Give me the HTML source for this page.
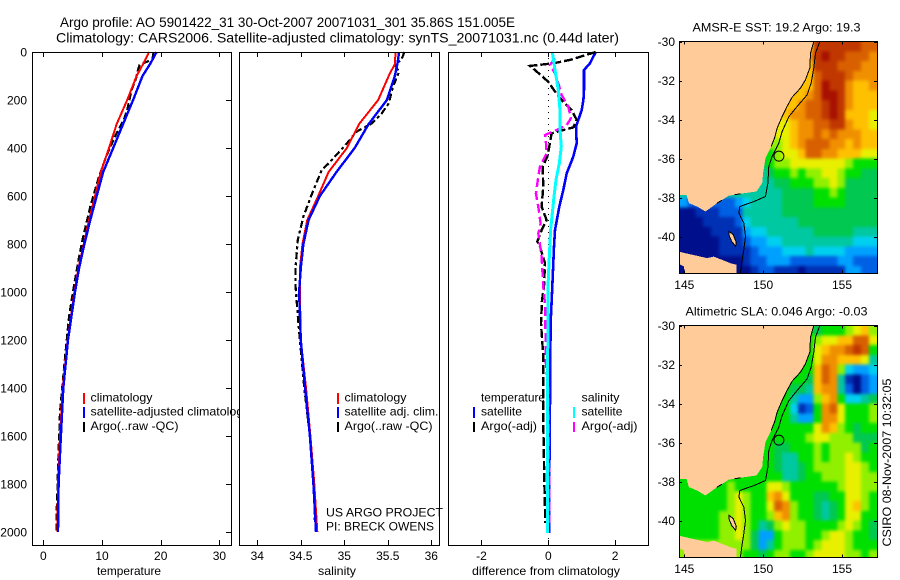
<!DOCTYPE html>
<html lang="en">
<head>
<meta charset="utf-8">
<title>Argo profile 5901422_31</title>
<style>
html,body{margin:0;padding:0;background:#fff;width:900px;height:580px;overflow:hidden}
svg{display:block}
text{font-family:"Liberation Sans",sans-serif;font-size:12px;fill:#000}
.title{font-size:14px}
.frame{fill:none;stroke:#000;stroke-width:1;shape-rendering:crispEdges}
.bg{fill:#fff;stroke:none}
.mark{shape-rendering:crispEdges}
</style>
</head>
<body>
<svg id="chart" xmlns="http://www.w3.org/2000/svg" width="900" height="580" viewBox="0 0 900 580">
  <defs>
    <clipPath id="clip-map-sst"><rect x="679.5" y="41.5" width="198" height="232"/></clipPath>
    <clipPath id="clip-map-sla"><rect x="679.5" y="325.5" width="198" height="232"/></clipPath>
    <filter id="field-smooth" x="-15%" y="-15%" width="130%" height="130%" color-interpolation-filters="sRGB">
      <feGaussianBlur stdDeviation="1.7"/>
    </filter>
  </defs>
  <rect x="0" y="0" width="900" height="580" fill="#fff"/>
  <text class="title" x="60" y="27" textLength="455" lengthAdjust="spacingAndGlyphs">Argo profile: AO 5901422_31 30-Oct-2007 20071031_301 35.86S 151.005E</text>
  <text class="title" x="56" y="42.5" textLength="563" lengthAdjust="spacingAndGlyphs">Climatology: CARS2006. Satellite-adjusted climatology: synTS_20071031.nc (0.44d later)</text>

  <g id="panel-temp">
    <rect class="bg" x="32.5" y="52.5" width="199" height="493"/>
    <g id="marks-temp"></g>
    <rect class="frame" x="32.5" y="52.5" width="199" height="493"/>
    <g id="ticks-temp"></g>
    <text x="97" y="575" textLength="64" lengthAdjust="spacingAndGlyphs">temperature</text>
    <g>
      <rect x="83" y="393" width="2" height="11" fill="#f00" class="mark"/>
      <rect x="83" y="407" width="2" height="11" fill="#00f" class="mark"/>
      <rect x="83" y="422" width="2" height="10" fill="#000" class="mark"/>
      <text x="90.5" y="401.5" textLength="62" lengthAdjust="spacingAndGlyphs">climatology</text>
      <text x="90.5" y="415.5" textLength="159" lengthAdjust="spacingAndGlyphs">satellite-adjusted climatology</text>
      <text x="90.5" y="430" textLength="88" lengthAdjust="spacingAndGlyphs">Argo(..raw -QC)</text>
    </g>
  </g>

  <g id="panel-sal">
    <rect class="bg" x="239.5" y="52.5" width="200" height="493"/>
    <g id="marks-sal"></g>
    <rect class="frame" x="239.5" y="52.5" width="200" height="493"/>
    <g id="ticks-sal"></g>
    <text x="318" y="575" textLength="38" lengthAdjust="spacingAndGlyphs">salinity</text>
    <g>
      <rect x="337" y="393" width="2" height="11" fill="#f00" class="mark"/>
      <rect x="337" y="407" width="2" height="11" fill="#00f" class="mark"/>
      <rect x="337" y="422" width="2" height="10" fill="#000" class="mark"/>
      <text x="344.5" y="401.5" textLength="62" lengthAdjust="spacingAndGlyphs">climatology</text>
      <text x="344.5" y="415.5" textLength="94" lengthAdjust="spacingAndGlyphs">satellite adj. clim.</text>
      <text x="344.5" y="430" textLength="88" lengthAdjust="spacingAndGlyphs">Argo(..raw -QC)</text>
    </g>
    <text x="326" y="516.5" textLength="117" lengthAdjust="spacingAndGlyphs">US ARGO PROJECT</text>
    <text x="326" y="530.5" textLength="108" lengthAdjust="spacingAndGlyphs">PI: BRECK OWENS</text>
  </g>

  <g id="panel-diff">
    <rect class="bg" x="448.5" y="52.5" width="200" height="493"/>
    <g id="marks-diff"></g>
    <rect class="frame" x="448.5" y="52.5" width="200" height="493"/>
    <g id="ticks-diff"></g>
    <text x="472" y="575" textLength="148" lengthAdjust="spacingAndGlyphs">difference from climatology</text>
    <g>
      <rect x="473" y="407" width="2" height="11" fill="#00f" class="mark"/>
      <rect x="473" y="422" width="2" height="10" fill="#000" class="mark"/>
      <rect x="573" y="407" width="2" height="11" fill="#0ff" class="mark"/>
      <rect x="573" y="422" width="2" height="10" fill="#f0f" class="mark"/>
      <text x="481" y="401.5" textLength="64" lengthAdjust="spacingAndGlyphs">temperature</text>
      <text x="481" y="415.5" textLength="41" lengthAdjust="spacingAndGlyphs">satellite</text>
      <text x="481" y="430" textLength="56" lengthAdjust="spacingAndGlyphs">Argo(-adj)</text>
      <text x="581.5" y="401.5" textLength="38" lengthAdjust="spacingAndGlyphs">salinity</text>
      <text x="581.5" y="415.5" textLength="41" lengthAdjust="spacingAndGlyphs">satellite</text>
      <text x="581.5" y="430" textLength="56" lengthAdjust="spacingAndGlyphs">Argo(-adj)</text>
    </g>
  </g>

  <text x="692.5" y="31.5" textLength="168" lengthAdjust="spacingAndGlyphs">AMSR-E SST: 19.2 Argo: 19.3</text>
  <g id="map-sst"></g>
  <text x="685.5" y="315.5" textLength="182" lengthAdjust="spacingAndGlyphs">Altimetric SLA: 0.046 Argo: -0.03</text>
  <g id="map-sla"></g>
  <text transform="translate(891 546.5) rotate(-90)" x="0" y="0" textLength="168" lengthAdjust="spacingAndGlyphs">CSIRO 08-Nov-2007 10:32:05</text>
</svg>

<script>
// ---------- profile data ----------
const profileDepths = [0,50,100,200,300,400,500,600,700,800,900,1000,1200,1400,1600,1800,2000];
const tempClim = [18.0,17.0,15.9,14.3,12.5,11.2,9.8,8.8,7.8,6.9,6.0,5.3,4.15,3.3,2.85,2.5,2.4];
const tempSat = [19.3,18.2,16.9,15.3,13.6,11.9,10.2,9.1,8.0,7.0,6.1,5.4,4.2,3.4,3.0,2.6,2.5];
const tempArgoDepths = [5,30,54,68,110,158,242,283,353,436,526,644,769,853,978,1100,1300,1500,1700,1900,2000];
const tempArgo = [18.75,18.6,16.4,16.2,15.8,15.05,14.3,13.7,12.2,10.7,9.4,8.0,6.8,6.1,5.2,4.4,3.6,2.85,2.55,2.3,2.25];
const salClim = [35.59,35.58,35.51,35.39,35.17,35.03,34.82,34.70,34.575,34.52,34.49,34.49,34.50,34.56,34.61,34.655,34.69];
const salSat = [35.63,35.61,35.58,35.49,35.28,35.12,34.91,34.72,34.59,34.53,34.50,34.48,34.50,34.55,34.605,34.645,34.675];
const salArgoDepths = [0,30,54,82,144,214,256,297,332,381,464,492,589,686,783,894,978,1100,1200,1400,1600,1800,1950];
const salArgo = [35.69,35.66,35.58,35.63,35.56,35.51,35.43,35.32,35.14,35.03,34.82,34.74,34.63,34.53,34.465,34.44,34.44,34.465,34.49,34.54,34.605,34.655,34.66];
const diffTempSatDepths = [0,47,75,158,200,242,311,380,436,506,575,644,742,811,978,1130,1450,1775,2005];
const diffTempSat = [1.42,1.25,1.07,1.07,1.05,1.0,0.83,0.85,0.75,0.55,0.45,0.33,0.2,0.17,0.12,0.07,0.05,0.03,0.02];
const diffSalSatDepths = [0,75,158,242,325,394,464,533,603,742,880,978,1410,1690,2005];
const diffSalSat = [0.12,0.2,0.3,0.35,0.35,0.39,0.33,0.23,0.17,0.07,0.02,-0.01,-0.02,-0.03,-0.02];
const diffTempArgoDepths = [0,33,47,58,75,124,165,200,242,283,314,325,339,394,436,478,561,644,700,742,790,811,880,978,1033,1130,1270,1547,1783,1963];
const diffTempArgo = [1.42,0.65,0.15,-0.55,-0.4,0,0.2,0.4,0.7,0.85,0.75,0.45,0.1,0.03,-0.03,-0.17,-0.15,-0.2,-0.05,-0.2,-0.33,-0.25,-0.1,-0.13,-0.19,-0.22,-0.15,-0.15,-0.12,-0.09];
const diffSalArgoDepths = [26,54,89,130,179,228,276,304,325,346,380,422,478,519,589,644,714,756,853,978,1047,1200,1283,1408,1686,1963];
const diffSalArgo = [0.2,0.05,0.2,0.3,0.4,0.6,0.68,0.55,0.25,-0.1,-0.07,-0.05,-0.25,-0.3,-0.37,-0.3,-0.23,-0.3,-0.2,-0.15,-0.1,-0.08,-0.08,0,0.02,0.03];

// ---------- tick labels ----------
const depthTicks = [0,200,400,600,800,1000,1200,1400,1600,1800,2000];
const tempTicks = [0,10,20,30];
const salTicks = [34,34.5,35,35.5,36];
const diffTicks = [-2,0,2];
const mapLonTicks = [145,150,155];
const mapLatTicks = [-30,-32,-34,-36,-38,-40];

// ---------- map data (colour level per half-degree cell, L = land) ----------
const L = null;
const sstGrid = [
[L,L,L,L,L,L,L,L,L,L,L,L,L,L,L,L,10,13,13,13,13,13,13,12,12],
[L,L,L,L,L,L,L,L,L,L,L,L,L,L,L,L,11,13,14,13,13,12,12,12,11],
[L,L,L,L,L,L,L,L,L,L,L,L,L,L,L,L,10,13,13,13,12,12,12,11,11],
[L,L,L,L,L,L,L,L,L,L,L,L,L,L,L,10,10,12,13,13,13,12,11,11,11],
[L,L,L,L,L,L,L,L,L,L,L,L,L,L,10,10,10,12,14,13,13,11,10,10,11],
[L,L,L,L,L,L,L,L,L,L,L,L,L,L,10,10,11,12,14,14,13,11,10,10,10],
[L,L,L,L,L,L,L,L,L,L,L,L,L,10,10,11,12,12,13,14,13,11,10,10,10],
[L,L,L,L,L,L,L,L,L,L,L,L,9,10,11,11,12,12,13,14,13,10,10,10,9],
[L,L,L,L,L,L,L,L,L,L,L,L,9,9,10,11,11,12,12,13,13,11,10,10,9],
[L,L,L,L,L,L,L,L,L,L,L,8,9,9,10,11,11,12,11,12,11,11,11,10,10],
[L,L,L,L,L,L,L,L,L,L,L,8,8,9,10,11,12,12,12,11,11,10,11,10,10],
[L,L,L,L,L,L,L,L,L,L,7,7,8,9,9,10,12,12,11,11,10,10,10,9,9],
[L,L,L,L,L,L,L,L,L,L,6,7,8,8,9,9,9,9,9,9,9,8,7,7,7],
[L,L,L,L,L,L,L,L,L,L,5,6,7,7,8,7,8,8,9,9,8,7,7,6,6],
[L,L,L,L,L,L,L,L,L,L,5,5,6,6,7,7,7,8,8,9,8,6,6,6,6],
[L,L,L,L,L,L,L,L,L,L,5,5,5,6,6,6,6,7,7,8,7,6,6,6,6],
[3,L,L,L,2,2,2,3,4,5,5,5,5,6,6,6,6,7,7,7,7,6,6,6,6],
[0,0,1,1,1,2,2,2,5,5,5,5,5,6,6,6,6,6,6,6,6,6,6,6,6],
[0,0,0,1,1,1,1,2,4,5,5,5,5,5,5,6,6,6,6,6,6,6,6,6,6],
[0,0,0,0,1,1,1,1,3,4,4,5,5,5,5,5,5,6,6,6,6,6,5,5,5],
[0,0,0,0,0,1,1,1,2,3,3,4,4,5,5,5,5,5,5,5,5,5,4,4,4],
[0,0,0,0,0,1,1,1,1,2,3,3,3,4,4,4,5,4,4,4,4,3,3,3,3],
[L,L,L,L,L,L,L,0,1,2,2,3,3,3,2,2,2,2,2,2,3,3,2,2,2],
[L,L,L,L,L,L,L,0,0,1,2,2,1,1,1,0,1,1,1,1,1,3,3,2,2]
];
const slaGrid = [
[L,L,L,L,L,L,L,L,L,L,L,L,L,L,L,L,7,6,7,7,7,8,9,10,8],
[L,L,L,L,L,L,L,L,L,L,L,L,L,L,L,L,7,8,9,9,10,10,12,12,9],
[L,L,L,L,L,L,L,L,L,L,L,L,L,L,L,L,7,9,10,11,11,12,13,12,7],
[L,L,L,L,L,L,L,L,L,L,L,L,L,L,L,7,7,9,11,11,10,10,10,9,5],
[L,L,L,L,L,L,L,L,L,L,L,L,L,L,7,7,7,10,12,11,8,4,3,3,4],
[L,L,L,L,L,L,L,L,L,L,L,L,L,L,7,7,6,10,12,11,5,1,0,2,3],
[L,L,L,L,L,L,L,L,L,L,L,L,L,7,6,6,5,10,11,11,5,2,0,2,3],
[L,L,L,L,L,L,L,L,L,L,L,L,7,7,5,3,3,8,10,11,7,4,4,5,6],
[L,L,L,L,L,L,L,L,L,L,L,L,7,7,4,1,2,7,11,12,9,7,7,7,8],
[L,L,L,L,L,L,L,L,L,L,L,7,7,7,5,3,3,7,11,11,9,7,7,7,8],
[L,L,L,L,L,L,L,L,L,L,L,7,7,7,7,7,7,9,11,10,8,7,6,7,7],
[L,L,L,L,L,L,L,L,L,L,7,7,7,7,7,7,8,9,9,8,8,8,6,6,6],
[L,L,L,L,L,L,L,L,L,L,7,7,6,6,7,7,7,8,7,8,8,8,8,6,7],
[L,L,L,L,L,L,L,L,L,L,7,7,6,5,5,7,7,8,7,8,8,9,8,7,7],
[L,L,L,L,L,L,L,L,L,L,7,7,6,5,5,6,7,8,8,8,8,9,9,8,7],
[L,L,L,L,L,L,L,L,L,L,7,7,7,5,5,6,7,7,8,8,8,9,9,8,8],
[7,L,L,L,7,7,8,7,7,7,7,9,9,8,7,7,7,7,7,7,8,9,9,8,8],
[7,7,7,7,7,7,8,9,8,7,7,10,11,9,7,7,7,6,6,7,7,9,9,8,7],
[7,7,7,7,7,7,8,9,8,7,7,9,12,11,8,7,7,6,5,6,7,9,10,8,7],
[7,7,7,7,7,8,8,9,8,7,7,8,10,11,8,7,7,6,5,6,7,9,9,7,7],
[7,7,7,7,7,8,8,9,8,7,5,6,8,9,8,8,7,7,7,7,8,9,8,7,6],
[7,7,7,7,7,8,8,9,8,6,3,3,7,8,8,8,7,7,8,9,9,8,7,7,6],
[L,L,L,L,L,L,L,8,8,6,3,5,7,8,8,8,7,8,9,9,9,8,7,7,7],
[L,L,L,L,L,L,L,8,7,7,6,7,8,8,7,7,8,9,9,9,9,8,8,7,8]
];
const levelColors = ['#000f8c','#0030b4','#0060e4','#00a0ff','#00d0f0','#00c8a0','#00c850','#00e000','#90f000','#e8f000','#ffc000','#f09000','#d86000','#c03800','#a81000'];
const coastLon = [153.21,153.0,152.96,152.68,152.37,151.84,151.52,151.2,150.89,150.72,150.51,150.15,150.0,149.94,149.58,148.56,147.82,147.08,146.34,145.81,145.29,145.14,144.6,144.6];
const coastLat = [-30,-30.6,-31.37,-31.97,-32.39,-32.85,-33.33,-33.85,-34.44,-34.96,-35.38,-35.98,-36.75,-37.26,-37.69,-37.81,-37.91,-38.29,-38.72,-38.46,-38.29,-37.86,-37.86,-29.9];
const tasLon = [144.6,146.45,146.87,147.93,148.31,148.31,145.07,144.97,144.6];
const tasLat = [-40.77,-41.11,-41.03,-41.37,-41.45,-42,-42,-41.54,-41.37];
const flindersLon = [147.85,148.1,148.3,148.25,148.0,147.85];
const flindersLat = [-39.75,-39.9,-40.3,-40.5,-40.25,-39.95];
const contourLon = [153.59,153.32,153.21,153.04,152.79,152.16,151.63,151.2,150.99,150.57,150.36,150.3,150.15,149.41,148.52,148.46,148.77,148.88,148.77,148.67,148.56];
const contourLat = [-30,-30.6,-31.37,-32.14,-32.74,-33.33,-33.85,-34.62,-35.21,-35.9,-36.41,-37.26,-37.95,-38.21,-38.46,-38.8,-39.32,-40.0,-40.68,-41.2,-41.88];
const profileLon = 151.0;
const profileLat = -35.88;

// ---------- axis functions ----------
const yDepth = d => 52 + d * 0.24;
const xTemp = v => 43.3 + v * 5.87;
const xSal = v => 257.3 + (v - 34) * 87;
const xDiff = v => 548.3 + v * 33.4;
const xLon = v => 684.3 + (v - 145) * 15.77;
const yLat = (v, top) => top + (-30 - v) * 19.5;

const NS = 'http://www.w3.org/2000/svg';
function el(parent, tag, props) {
  const n = document.createElementNS(NS, tag);
  for (const k in props) n.setAttribute(k, props[k]);
  parent.appendChild(n);
  return n;
}
function profileLine(parent, xs, ds, xFn, color, dash, name, width) {
  const pts = xs.map((v, i) => xFn(v).toFixed(1) + ',' + yDepth(ds[i]).toFixed(1)).join(' ');
  const p = el(parent, 'polyline', {points: pts, fill: 'none', stroke: color, 'stroke-width': width, 'shape-rendering': 'crispEdges'});
  if (dash) p.setAttribute('stroke-dasharray', dash);
  
  
}
function xAxisTicks(g, ticks, xFn, prefix) {
  ticks.forEach(t => {
    const x = Math.round(xFn(t)) + 0.5;
    const a = el(g, 'path', {d: 'M' + x + ' 52V57M' + x + ' 545V540', stroke: '#000', fill: 'none', 'shape-rendering': 'crispEdges'});
    
    
    const l = el(g, 'text', {x: xFn(t), y: 560, 'text-anchor': 'middle'});
    l.textContent = String(t);
    
    
  });
}

// ---------- temperature ----------
const mT = document.getElementById('marks-temp');
profileLine(mT, tempArgo, tempArgoDepths, xTemp, '#000', '7 3', 'argo-temperature-line', 2.2);
profileLine(mT, tempClim, profileDepths, xTemp, '#f00', '', 'climatology-temperature-line', 2);
profileLine(mT, tempSat, profileDepths, xTemp, '#00f', '', 'satellite-temperature-line', 2.4);
const tT = document.getElementById('ticks-temp');
xAxisTicks(tT, tempTicks, xTemp, 'temperature');
depthTicks.forEach(d => {
  const y = Math.round(yDepth(d)) + 0.5;
  const a = el(tT, 'path', {d: 'M226 ' + y + 'H231', stroke: '#000', 'shape-rendering': 'crispEdges'});
  
  
  const l = el(tT, 'text', {x: 27, y: yDepth(d) + 4.5, 'text-anchor': 'end'});
  l.textContent = String(d);
  
  
});

// ---------- salinity ----------
const mS = document.getElementById('marks-sal');
profileLine(mS, salArgo, salArgoDepths, xSal, '#000', '7 3 3 3', 'argo-salinity-line', 2.2);
profileLine(mS, salClim, profileDepths, xSal, '#f00', '', 'climatology-salinity-line', 2);
profileLine(mS, salSat, profileDepths, xSal, '#00f', '', 'satellite-salinity-line', 2.4);
xAxisTicks(document.getElementById('ticks-sal'), salTicks, xSal, 'salinity');

// ---------- difference ----------
const mD = document.getElementById('marks-diff');
const zero = el(mD, 'line', {x1: xDiff(0), x2: xDiff(0), y1: 52, y2: 545, stroke: '#000', 'stroke-width': 1, 'stroke-dasharray': '1 5', 'shape-rendering': 'crispEdges'});


profileLine(mD, diffTempSat, diffTempSatDepths, xDiff, '#00f', '', 'temperature-satellite-difference-line', 2.6);
profileLine(mD, diffTempArgo, diffTempArgoDepths, xDiff, '#000', '9 3', 'temperature-argo-difference-line', 2.4);
profileLine(mD, diffSalArgo, diffSalArgoDepths, xDiff, '#f0f', '9 4', 'salinity-argo-difference-line', 2.4);
profileLine(mD, diffSalSat, diffSalSatDepths, xDiff, '#0ff', '', 'salinity-satellite-difference-line', 3);
xAxisTicks(document.getElementById('ticks-diff'), diffTicks, xDiff, 'difference');

// ---------- maps ----------
function drawMap(id, grid, top, clip, prefix) {
  const root = document.getElementById(id);
  const inner = el(root, 'g', {'clip-path': 'url(#' + clip + ')'});
  
  
  const cells = el(inner, 'g', {filter: 'url(#field-smooth)'});
  
  
  grid.forEach((row, j) => row.forEach((v, i) => {
    // land cells borrow the nearest sea value so the coast edge stays saturated
    const shown = v === null ? row.slice(i).find(q => q !== null) : v;
    const lon = 144.7 + i * 0.5, lat = -30 - j * 0.5;
    let x0 = xLon(lon), x1 = xLon(lon + 0.5), y0 = yLat(lat, top), y1 = yLat(lat - 0.5, top);
    if (i === 0) x0 -= 14;
    if (i === row.length - 1) x1 += 14;
    if (j === 0) y0 -= 14;
    if (j === grid.length - 1) y1 += 14;
    const c = el(cells, 'rect', {x: x0.toFixed(1), y: y0.toFixed(1), width: (x1 - x0 + 0.5).toFixed(1), height: (y1 - y0 + 0.5).toFixed(1), fill: levelColors[shown], 'shape-rendering': 'crispEdges'});
    
    
  }));
  const poly = (lons, lats) => lons.map((v, i) => xLon(v).toFixed(1) + ',' + yLat(lats[i], top).toFixed(1)).join(' ');
  const land = el(inner, 'polygon', {points: poly(coastLon, coastLat), fill: '#ffcc99', 'shape-rendering': 'crispEdges'});
  
  
  const tas = el(inner, 'polygon', {points: poly(tasLon, tasLat), fill: '#ffcc99', 'shape-rendering': 'crispEdges'});
  
  
  const fl = el(inner, 'polygon', {points: poly(flindersLon, flindersLat), fill: '#ffcc99', stroke: '#000', 'stroke-width': 1, 'shape-rendering': 'crispEdges'});
  
  
  const coast = el(inner, 'polyline', {points: poly(coastLon.slice(0, 11), coastLat.slice(0, 11)), fill: 'none', stroke: '#000', 'stroke-width': 1, 'shape-rendering': 'crispEdges'});
  
  
  const south = el(inner, 'polyline', {points: poly(coastLon.slice(15, 19), coastLat.slice(15, 19)), fill: 'none', stroke: '#000', 'stroke-width': 1, 'stroke-dasharray': '6 14', 'shape-rendering': 'crispEdges'});
  
  
  const cont = el(inner, 'polyline', {points: poly(contourLon, contourLat), fill: 'none', stroke: '#000', 'stroke-width': 1, 'shape-rendering': 'crispEdges'});
  
  
  const circ = el(inner, 'circle', {cx: xLon(profileLon), cy: yLat(profileLat, top), r: 5, fill: 'none', stroke: '#000', 'stroke-width': 1});
  
  
  const fr = el(root, 'rect', {x: 679.5, y: top, width: 198, height: 232, fill: 'none', stroke: '#000', 'shape-rendering': 'crispEdges'});
  
  
  mapLonTicks.forEach(t => {
    const x = Math.round(xLon(t)) + 0.5;
    const a = el(root, 'path', {d: 'M' + x + ' ' + top + 'v3M' + x + ' ' + (top + 232) + 'v-3', stroke: '#000', 'shape-rendering': 'crispEdges'});
    
    
    const l = el(root, 'text', {x: xLon(t), y: top + 247.5, 'text-anchor': 'middle'});
    l.textContent = String(t);
    
    
  });
  mapLatTicks.forEach(t => {
    const y = Math.round(yLat(t, top)) + 0.5;
    const a = el(root, 'path', {d: 'M679 ' + y + 'h3M877 ' + y + 'h-3', stroke: '#000', 'shape-rendering': 'crispEdges'});
    
    
    const l = el(root, 'text', {x: 675, y: yLat(t, top) + 4.5, 'text-anchor': 'end'});
    l.textContent = String(t);
    
    
  });
}
drawMap('map-sst', sstGrid, 41.5, 'clip-map-sst', 'sst');
drawMap('map-sla', slaGrid, 325.5, 'clip-map-sla', 'sla');
</script>
</body>
</html>
